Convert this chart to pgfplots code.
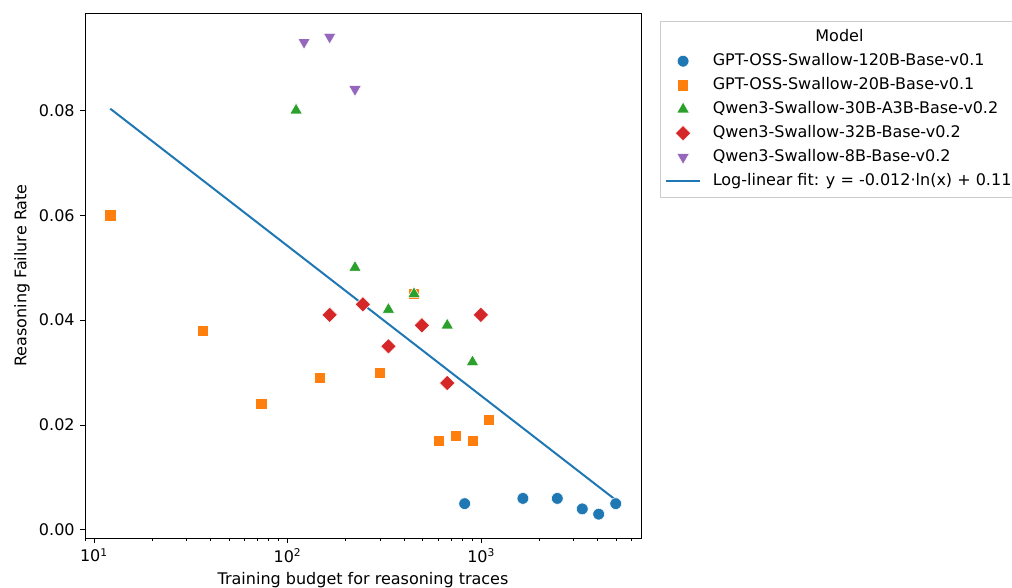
\documentclass[border=0pt]{standalone}
\usepackage{fontspec}
\setmainfont{DejaVu Sans}
\usepackage{pgfplots}
\pgfplotsset{compat=1.18}
\definecolor{c0}{HTML}{1F77B4}
\definecolor{c1}{HTML}{FF7F0E}
\definecolor{c2}{HTML}{2CA02C}
\definecolor{c3}{HTML}{D62728}
\definecolor{c4}{HTML}{9467BD}
\pgfplotsset{
  mkleg/.style={legend image code/.code={\draw[mark repeat=2,mark phase=2,##1] plot coordinates {(0pt,0pt) (12.75pt,0pt) (25.5pt,0pt)};}},
  lnleg/.style={legend image code/.code={\draw[##1] (0pt,0pt) -- (25.5pt,0pt);}},
}
\begin{document}
\fontsize{12}{14}\selectfont
\begin{tikzpicture}
\path[use as bounding box] (0,0) rectangle (759pt,440.25pt);
\begin{axis}[
  at={(63.75pt,36.75pt)}, anchor=south west,
  scale only axis, width=417pt, height=393.75pt,
  xmode=log, xmin=8.995, xmax=6692, ymin=-0.00155, ymax=0.09855,
  xtick={10,100,1000},
  xticklabels={10\textsuperscript{1},10\textsuperscript{2},10\textsuperscript{3}},
  minor xtick={9,20,30,40,50,60,70,80,90,200,300,400,500,600,700,800,900,2000,3000,4000,5000,6000},
  ytick={0,0.02,0.04,0.06,0.08},
  yticklabels={0.00,0.02,0.04,0.06,0.08},
  xtick pos=bottom, ytick pos=left,
  tick align=outside, major tick length=3.6pt, minor tick length=2.1pt,
  every tick/.style={black, line width=0.6pt},
  axis line style={line width=0.6pt},
  tick label style={font=\fontsize{12}{14}\selectfont},
  label style={font=\fontsize{12}{14}\selectfont},
  xlabel={Training budget for reasoning traces},
  ylabel={Reasoning Failure Rate},
  xlabel style={at={(axis description cs:0.5,0)}, anchor=base, yshift=-34.5pt},
  ylabel style={at={(axis description cs:0,0.5)}, anchor=center, yshift=47.25pt},
  legend cell align=left,
  legend style={at={(axis description cs:1,1)}, anchor=north west, xshift=14.25pt, yshift=-6pt,
    draw=black!20, fill=white, line width=0.6pt,
    font=\fontsize{12}{14}\selectfont,
    inner xsep=3.5pt, inner ysep=6pt, row sep=6.3pt,
    nodes={inner ysep=0pt, text height=9pt, text depth=2.7pt},
    /tikz/every odd column/.append style={column sep=6.75pt}},
]
\addlegendimage{empty legend}
\addlegendentry{\hspace*{77pt}Model}
\addplot[only marks, mark=*, mark size=4.4pt, mark options={fill=c0, draw=white, line width=0.4pt}, mkleg]
  coordinates {(822,0.005) (1643,0.006) (2472,0.006) (3328,0.004) (4045,0.003) (4955,0.005)};
\addlegendentry{GPT-OSS-Swallow-120B-Base-v0.1}
\addplot[only marks, mark=square*, mark size=4.2pt, mark options={fill=c1, draw=white, line width=0.4pt}, mkleg]
  coordinates {(12.15,0.060) (36.4,0.038) (73.1,0.024) (147,0.029) (300,0.030) (450,0.045) (605,0.017) (736,0.018) (902,0.017) (1094,0.021)};
\addlegendentry{GPT-OSS-Swallow-20B-Base-v0.1}
\addplot[only marks, mark=triangle*, mark size=5.4pt, mark options={fill=c2, draw=white, line width=0.4pt}, mkleg]
  coordinates {(110.7,0.080) (223,0.050) (332,0.042) (450,0.045) (668,0.039) (902,0.032)};
\addlegendentry{Qwen3-Swallow-30B-A3B-Base-v0.2}
\addplot[only marks, mark=square*, mark size=4.1pt, mark options={fill=c3, draw=white, line width=0.4pt, rotate=45}, mkleg]
  coordinates {(165,0.041) (245,0.043) (332,0.035) (494,0.039) (668,0.028) (996,0.041)};
\addlegendentry{Qwen3-Swallow-32B-Base-v0.2}
\addplot[only marks, mark=triangle*, mark size=5.4pt, mark options={fill=c4, draw=white, line width=0.4pt, rotate=180}, mkleg]
  coordinates {(121.7,0.093) (165,0.094) (223,0.084)};
\addlegendentry{Qwen3-Swallow-8B-Base-v0.2}
\addplot[c0, line width=1.5pt, lnleg]
  coordinates {(12.15,0.0803) (4955,0.0057)};
\addlegendentry{Log-linear fit: y = -0.012·ln(x) + 0.11}
\end{axis}
\end{tikzpicture}
\end{document}
